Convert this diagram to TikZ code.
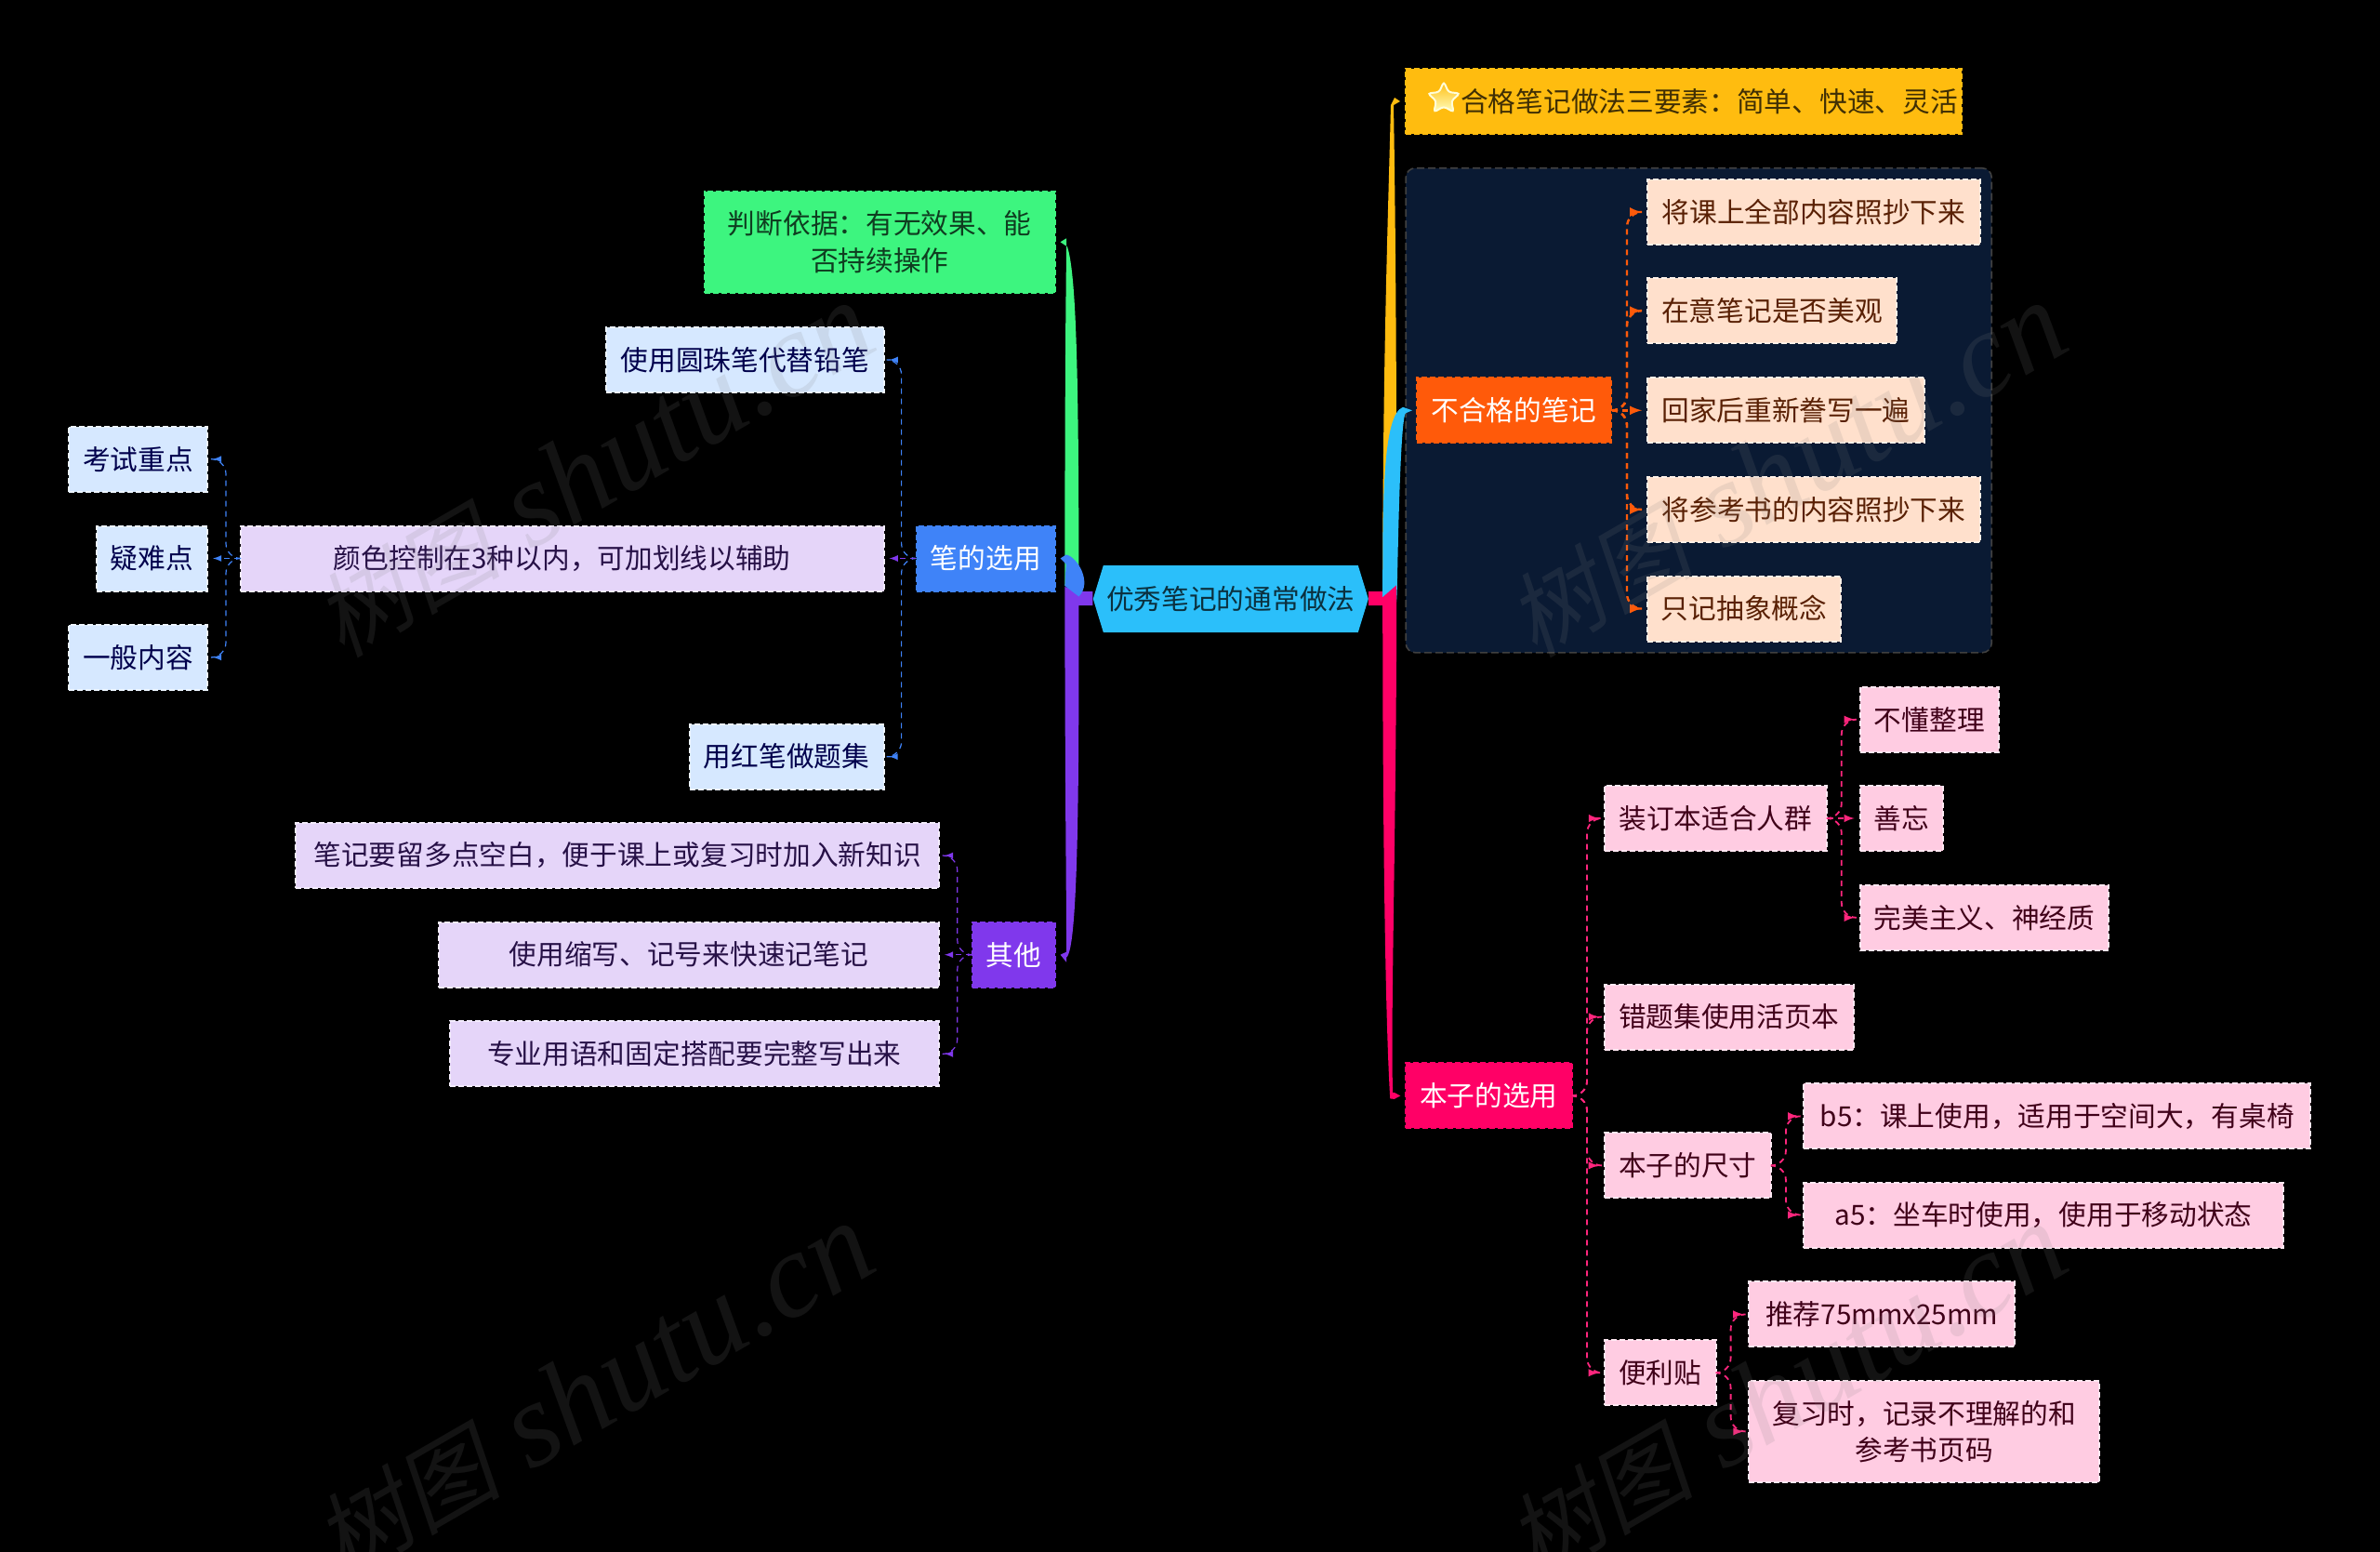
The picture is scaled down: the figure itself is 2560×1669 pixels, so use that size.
\documentclass[tikz,border=0pt]{standalone}
\usepackage{fontspec}
\setmainfont{Noto Sans CJK SC}
\newfontfamily\markcjk[FakeSlant=0.2]{Noto Sans CJK SC}
\newfontfamily\marklat{Liberation Serif}
\usetikzlibrary{arrows, calc, shapes.geometric, shapes.symbols}

\definecolor{rootc}{HTML}{2BBFFA}
\definecolor{yelc}{HTML}{FFBC0F}
\definecolor{orac}{HTML}{FF5A0A}
\definecolor{pinkc}{HTML}{FF0066}
\definecolor{greenc}{HTML}{3DF57F}
\definecolor{bluec}{HTML}{3F83F8}
\definecolor{purpc}{HTML}{8038EC}
\definecolor{panelc}{HTML}{0A1A33}
\definecolor{peach}{HTML}{FFE0CC}
\definecolor{rose}{HTML}{FFCCE2}
\definecolor{sky}{HTML}{D6E8FF}
\definecolor{lilac}{HTML}{E5D5F9}

\tikzset{
sz/.style 2 args={minimum width=#1*0.5pt, minimum height=#2*0.5pt},
box/.style={rectangle, inner sep=0pt, align=center, line width=1pt, dash pattern=on 3pt off 1.5pt},
main/.style={box, fill=#1, draw=#1, text=white},
leaf/.style 2 args={box, fill=#1, draw=white!55!#1, text=#2},
peachbox/.style={leaf={peach}{orac!35!black}},
rosebox/.style={leaf={rose}{pinkc!25!black}},
skybox/.style={leaf={sky}{blue!30!black}},
lilacbox/.style={leaf={lilac}{purpc!30!black}},
lnk/.style={->, rounded corners=8pt, dash pattern=on 3pt off 2.5pt, shorten >=2.5pt, line width=#1},
lnk/.default=0.9pt
}

\begin{document}
\begin{tikzpicture}[>=latex, x=0.5pt, y=-0.5pt, font=\fontsize{14.85}{19.6}\selectfont]

\fill[black] (0, 0) rectangle (2560, 1669);
\clip (0, 0) rectangle (2560, 1669);
\useasboundingbox (0, 0) rectangle (2560, 1669);

\node[main=yelc, text=yelc!25!black, sz={598}{70}] (good) at (1811, 109) {\hspace*{27.5pt}合格笔记做法三要素：简单、快速、灵活};
\node[star, star points=5, star point ratio=2.1, minimum size=18pt, inner sep=0pt, rounded corners=1.5pt, top color=yelc, bottom color=yellow!25, draw=yellow!15, line width=1pt] (goodstar) at (1553, 106) {};

\node[rectangle, rounded corners=5pt, fill=panelc, draw=white!25!black, line width=0.8pt, dash pattern=on 4pt off 2pt, sz={630}{521}] (panel) at (1827.2, 441.3) {};

\node[main=orac, sz={209}{70}] (bad) at (1628.5, 441.3) {不合格的笔记};
\node[peachbox, sz={358}{70}] (badA) at (1951, 228) {将课上全部内容照抄下来};
\node[peachbox, sz={268}{70}] (badB) at (1906, 334.2) {在意笔记是否美观};
\node[peachbox, sz={298}{70}] (badC) at (1921, 441.3) {回家后重新誊写一遍};
\node[peachbox, sz={358}{70}] (badD) at (1951, 548) {将参考书的内容照抄下来};
\node[peachbox, sz={208}{70}] (badE) at (1876, 654.5) {只记抽象概念};

\node[main=pinkc, sz={179.3}{70}] (book) at (1601.4, 1178.4) {本子的选用};
\node[rosebox, sz={239}{70}] (bind) at (1845.3, 880) {装订本适合人群};
\node[rosebox, sz={149.4}{70}] (bindA) at (2075.3, 773.7) {不懂整理};
\node[rosebox, sz={89.3}{70}] (bindB) at (2045.3, 880) {善忘};
\node[rosebox, sz={267.6}{70}] (bindC) at (2134.5, 986.8) {完美主义、神经质};
\node[rosebox, sz={268}{70}] (loose) at (1859.8, 1093.5) {错题集使用活页本};
\node[rosebox, sz={179.3}{70}] (size) at (1815.3, 1253.4) {本子的尺寸};
\node[rosebox, sz={545}{70}] (sizeA) at (2212.7, 1200.3) {b5：课上使用，适用于空间大，有桌椅};
\node[rosebox, sz={516}{70}] (sizeB) at (2198, 1306.6) {a5：坐车时使用，使用于移动状态};
\node[rosebox, sz={120}{70}] (sticky) at (1785.6, 1476.3) {便利贴};
\node[rosebox, sz={286}{70}] (stickyA) at (2024.2, 1413.4) {推荐75mmx25mm};
\node[rosebox, sz={376.6}{109.4}] (stickyB) at (2069.7, 1539.4) {复习时，记录不理解的和\\参考书页码};

\node[main=greenc, text=greenc!25!black, sz={377.4}{109.4}] (basis) at (946.3, 260.3) {判断依据：有无效果、能\\否持续操作};

\node[main=bluec, sz={149.4}{70}] (pen) at (1060.3, 600.5) {笔的选用};
\node[skybox, sz={298.6}{70}] (penA) at (801.3, 387) {使用圆珠笔代替铅笔};
\node[lilacbox, sz={691.6}{70}] (penB) at (604.8, 600.5) {颜色控制在3种以内，可加划线以辅助};
\node[skybox, sz={209}{70}] (penC) at (846, 813.7) {用红笔做题集};
\node[skybox, sz={149}{70}] (colA) at (148.5, 493.7) {考试重点};
\node[skybox, sz={119}{70}] (colB) at (163.5, 600.5) {疑难点};
\node[skybox, sz={149}{70}] (colC) at (148.5, 706.9) {一般内容};

\node[main=purpc, sz={89.3}{70}] (misc) at (1090.4, 1026.7) {其他};
\node[lilacbox, sz={691.5}{70}] (miscA) at (664.2, 920) {笔记要留多点空白，便于课上或复习时加入新知识};
\node[lilacbox, sz={538.3}{70}] (miscB) at (740.8, 1026.7) {使用缩写、记号来快速记笔记};
\node[lilacbox, sz={526}{70}] (miscC) at (746.9, 1133.4) {专业用语和固定搭配要完整写出来};

\node[signal, signal to=east and west, signal pointer angle=146, fill=rootc, text=rootc!25!black, inner sep=0pt, sz={296}{72}] (root) at (1323.8, 644) {优秀笔记的通常做法};

% left stems
\fill[greenc] ($(root.west)+(-30,-14)$) .. controls +(0,-200) and +(-1,100) .. ($(basis.east)+(11,6)$)
-- ($(basis.east)+(11,-4)$) -- ($(basis.east)+(4.5,0)$) -- ($(basis.east)+(12,5)$) .. controls +(10,30) and +(0,-220) .. ($(root.west)+(-15,-14)$) -- cycle;
\fill[purpc] ($(root.west)+(0,-8)$) -- ($(root.west)+(-15,-8)$) -- ($(root.west)+(-30,-13)$) .. controls +(0,200) and +(0,-60) .. ($(misc.east)+(11,-3)$)
-- ($(misc.east)+(4.5,0)$) -- ($(misc.east)+(11,8)$) -- ($(misc.east)+(11,3)$) .. controls +(14,-10) and +(0,150) .. ($(root.west)+(-15,7)$) -- ($(root.west)+(0,7)$) -- cycle;
\fill[bluec] ($(pen.east)+(4.5,0)$) -- ($(pen.east)+(10.7,-4)$) .. controls +(12,2) and +(15,-15) .. ($(root.west)+(-15,-2.5)$)
-- ($(root.west)+(-30,-14)$) -- ($(pen.east)+(10.7,6)$) -- cycle;

% right stems
\fill[yelc] ($(root.east)+(15,-2)$) .. controls +(0,-250) and +(-3,120) .. ($(good.west)+(-15,4)$)
-- ($(good.west)+(-11,-4)$) -- ($(good.west)+(-5,0)$) -- ($(good.west)+(-12,4)$) .. controls +(2,120) and +(0,-250) .. ($(root.east)+(30,-15)$) -- cycle;
\fill[pinkc] ($(root.east)+(0,-8)$) -- ($(root.east)+(15,-8)$) -- ($(root.east)+(30,-15)$) .. controls +(0,250) and +(-3,-60) .. ($(book.west)+(-12.5,-3)$)
-- ($(book.west)+(-11,-3.5)$) -- ($(book.west)+(-4.4,0)$) -- ($(book.west)+(-11,3.5)$) -- ($(book.west)+(-15.5,3)$) .. controls +(-5,-80) and +(0,250) .. ($(root.east)+(15,7)$) -- ($(root.east)+(0,7)$) -- cycle;
\fill[rootc] ($(root.east)+(15,-2)$) .. controls +(0,-100) and +(-22,8) .. ($(bad.west)+(-14,-3.5)$)
-- ($(bad.west)+(-4,0)$) -- ($(bad.west)+(-11,3)$) .. controls +(-8,6) and +(0,90) .. ($(root.east)+(30,-15)$) -- cycle;

% dashed links
\foreach \kid in {badA, badB, badD, badE}
{
\draw[lnk=1.2pt, orac] (bad.east) -- ++(16,0) |- (\kid.west);
};
\draw[lnk=1.2pt, orac] (bad.east) -- (badC.west);
\foreach \kid in {bind, loose, size, sticky}
{
\draw[lnk, pinkc!85!white] (book.east) -- ++(15,0) |- (\kid.west);
};
\foreach \kid in {bindA, bindC}
{
\draw[lnk, pinkc!85!white] (bind.east) -- ++(15,0) |- (\kid.west);
};
\draw[lnk, pinkc!85!white] (bind.east) -- (bindB.west);
\foreach \kid in {sizeA, sizeB}
{
\draw[lnk, pinkc!85!white] (size.east) -- ++(15,0) |- (\kid.west);
};
\foreach \kid in {stickyA, stickyB}
{
\draw[lnk, pinkc!85!white] (sticky.east) -- ++(15,0) |- (\kid.west);
};
\foreach \kid in {penA, penC}
{
\draw[lnk=0.6pt, bluec] (pen.west) -- ++(-15,0) |- (\kid.east);
};
\draw[lnk=0.6pt, purpc] (pen.west) -- (penB.east);
\foreach \kid in {colA, colC}
{
\draw[lnk=0.6pt, bluec] (penB.west) -- ++(-15,0) |- (\kid.east);
};
\draw[lnk=0.6pt, bluec] (penB.west) -- (colB.east);
\foreach \kid in {miscA, miscC}
{
\draw[lnk=0.6pt, purpc] (misc.west) -- ++(-15,0) |- (\kid.east);
};
\draw[lnk=0.6pt, purpc] (misc.west) -- (miscB.east);

% watermark
\foreach \wx/\wy/\wname in {638/506/markA, 1921/506/markB, 638/1496/markC, 1921/1496/markD}
{
\node[rotate=30, text=gray, opacity=0.15, font=\fontsize{65}{65}\selectfont] (\wname) at (\wx, \wy) {\markcjk\fontsize{50}{50}\selectfont 树图\marklat\itshape\fontsize{65}{65}\selectfont\ shutu.cn};
};

\end{tikzpicture}
\end{document}
